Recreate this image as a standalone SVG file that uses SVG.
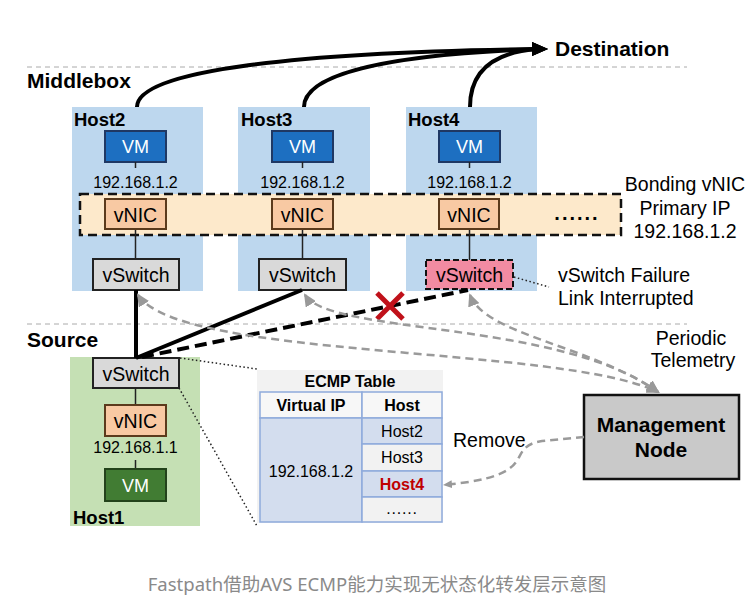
<svg xmlns="http://www.w3.org/2000/svg" width="754" height="604" viewBox="0 0 754 604">
<defs>
<style>
text{font-family:"Liberation Sans",Arial,Helvetica,sans-serif;fill:#000}
.c{text-anchor:middle}
.b{font-weight:bold}
.sec{font-size:21px;font-weight:bold}
.host{fill:#bdd7ee}
.vm{fill:#1d6fc1;stroke:#1f3864;stroke-width:2}
.gvm{fill:#417c33;stroke:#23421b;stroke-width:2}
.vmt{fill:#fff;font-size:18px}
.nic{fill:#f8c9a3;stroke:#5b3a1c;stroke-width:2}
.sw{fill:#d9d9d9;stroke:#222;stroke-width:2}
.t19{font-size:19.5px}
.t16{font-size:16px}
.hl{font-size:18.5px;font-weight:bold}
.thin{stroke:#222;stroke-width:1.5;fill:none}
.sep{stroke:#aaa;stroke-width:1;stroke-dasharray:5 4;fill:none}
.tel{fill:none;stroke:#9a9a9a;stroke-width:2.5;stroke-dasharray:8 5}
.dot{fill:none;stroke:#222;stroke-width:1.5;stroke-dasharray:1.5 2.5}
.thick{fill:none;stroke:#000;stroke-width:4}
.cell{stroke:#8eaadb;stroke-width:1.5}
.bl{fill:#d3ddee}
.lt{fill:#f2f2f2}
</style>
<marker id="ah" markerUnits="userSpaceOnUse" markerWidth="16" markerHeight="14" viewBox="0 0 16 14" refX="6" refY="7" orient="0"><path d="M0,0 L16,7 L0,14 Z" fill="#000"/></marker>
<marker id="ga" markerUnits="userSpaceOnUse" markerWidth="13" markerHeight="12" viewBox="0 0 13 12" refX="11" refY="6" orient="auto-start-reverse"><path d="M0,0 L13,6 L0,12 Z" fill="#999"/></marker>
<marker id="gs" markerUnits="userSpaceOnUse" markerWidth="9" markerHeight="8" viewBox="0 0 9 8" refX="8" refY="4" orient="auto"><path d="M0,0 L9,4 L0,8 Z" fill="#999"/></marker>
</defs>

<g id="separators">
<path class="sep" d="M27,67 H687"/>
<path class="sep" d="M27,324 H687"/>
</g>

<g id="section-labels">
<text class="sec" x="27" y="88">Middlebox</text>
<text class="sec" x="27" y="347">Source</text>
</g>

<g id="destination">
<text class="sec" x="555" y="56">Destination</text>
</g>

<g id="host2">
<rect class="host" x="72" y="107" width="131" height="184"/>
<text class="hl" x="74" y="126">Host2</text>
<rect class="vm" x="105" y="131" width="61" height="31"/>
<text class="vmt c" x="135.5" y="153">VM</text>
<path class="thin" d="M135.5,162 V168"/>
<text class="t16 c" x="135.5" y="188">192.168.1.2</text>
</g>

<g id="host3">
<rect class="host" x="238" y="107" width="132" height="184"/>
<text class="hl" x="241" y="126">Host3</text>
<rect class="vm" x="272" y="131" width="61" height="31"/>
<text class="vmt c" x="302.5" y="153">VM</text>
<path class="thin" d="M302.5,162 V168"/>
<text class="t16 c" x="302.5" y="188">192.168.1.2</text>
</g>

<g id="host4">
<rect class="host" x="406" y="107" width="131" height="184"/>
<text class="hl" x="408" y="126">Host4</text>
<rect class="vm" x="439" y="131" width="61" height="31"/>
<text class="vmt c" x="469.5" y="153">VM</text>
<path class="thin" d="M469.5,162 V168"/>
<text class="t16 c" x="469.5" y="188">192.168.1.2</text>
</g>

<g id="bonding-vnic">
<rect x="80" y="194" width="541" height="41" fill="#fde9cb" stroke="#111" stroke-width="2.5" stroke-dasharray="9 5"/>
<text class="b c" x="577" y="220" font-size="20" letter-spacing="2">......</text>
<text class="t19 c" x="685" y="191">Bonding vNIC</text>
<text class="t19 c" x="685" y="214.5">Primary IP</text>
<text class="t19 c" x="685" y="238">192.168.1.2</text>
</g>

<g id="host2-vnic-vswitch">
<path class="thin" d="M135.5,229 V259"/>
<rect class="nic" x="105" y="199" width="61" height="30"/>
<text class="t19 c" x="135.5" y="222">vNIC</text>
<rect class="sw" x="93" y="259" width="86" height="31"/>
<text class="t19 c" x="136" y="282">vSwitch</text>
</g>

<g id="host3-vnic-vswitch">
<path class="thin" d="M302.5,229 V259"/>
<rect class="nic" x="272" y="199" width="61" height="30"/>
<text class="t19 c" x="302.5" y="222">vNIC</text>
<rect class="sw" x="259" y="259" width="87" height="31"/>
<text class="t19 c" x="302.5" y="282">vSwitch</text>
</g>

<g id="host4-vnic-vswitch">
<path class="thin" d="M469.5,229 V260"/>
<rect class="nic" x="439" y="199" width="60" height="30"/>
<text class="t19 c" x="469" y="222">vNIC</text>
<rect x="426" y="260" width="87" height="29" fill="#f28ba2" stroke="#111" stroke-width="2" stroke-dasharray="6 3"/>
<text class="t19 c" x="469.5" y="282">vSwitch</text>
</g>

<g id="failure-note">
<path class="dot" d="M514,277 L549,287"/>
<text class="t19" x="558" y="282">vSwitch Failure</text>
<text class="t19" x="558" y="305">Link Interrupted</text>
</g>

<g id="host1">
<rect x="70" y="357" width="130" height="169" fill="#c5e0b4"/>
<path class="thin" d="M135.5,388 V405 M135.5,460 V469"/>
<rect class="sw" x="93" y="358" width="86" height="30"/>
<text class="t19 c" x="136" y="381">vSwitch</text>
<rect class="nic" x="105" y="405" width="61" height="31"/>
<text class="t19 c" x="135.5" y="428">vNIC</text>
<text class="t16 c" x="135.5" y="453">192.168.1.1</text>
<rect class="gvm" x="105" y="469" width="61" height="32"/>
<text class="vmt c" x="135.5" y="492">VM</text>
<text class="hl" x="73" y="524">Host1</text>
</g>

<g id="ecmp-table">
<rect x="257" y="370" width="186" height="153" fill="#f2f2f2"/>
<text class="b c" x="350" y="387" font-size="16">ECMP Table</text>
<rect class="cell" x="260" y="392" width="102" height="26" fill="#f7f7f7"/>
<rect class="cell" x="362" y="392" width="80" height="26" fill="#f7f7f7"/>
<rect class="cell bl" x="260" y="418" width="102" height="104"/>
<rect class="cell bl" x="362" y="418" width="80" height="26"/>
<rect class="cell lt" x="362" y="444" width="80" height="27"/>
<rect class="cell bl" x="362" y="471" width="80" height="26"/>
<rect class="cell lt" x="362" y="497" width="80" height="25"/>
<text class="b c t16" x="311" y="411">Virtual IP</text>
<text class="b c t16" x="402" y="411">Host</text>
<text class="c t16" x="311" y="477">192.168.1.2</text>
<text class="c t16" x="402" y="437">Host2</text>
<text class="c t16" x="402" y="463">Host3</text>
<text class="b c t16" x="402" y="490" style="fill:#c00000">Host4</text>
<text class="c t16" x="402" y="514" letter-spacing="0.8">......</text>
</g>

<g id="management-node">
<rect x="584" y="395" width="155" height="84" fill="#c9c9c9" stroke="#111" stroke-width="2.5"/>
<text class="b c" x="661" y="432" font-size="21">Management</text>
<text class="b c" x="661" y="457" font-size="21">Node</text>
</g>

<g id="connectors">
<path class="thick" d="M137,107 C137,70 300,52 538,49" marker-end="url(#ah)"/>
<path class="thick" d="M304,107 C304,75 380,55 538,49" marker-end="url(#ah)"/>
<path class="thick" d="M470,107 C470,70 495,52 538,49" marker-end="url(#ah)"/>
<path class="thick" d="M136,358 V290"/>
<path class="thick" d="M136,358 L302,290"/>
<path class="thick" d="M142,357 L468,290" stroke-dasharray="12 6" stroke-width="4.5"/>
<path d="M377,293 L403,319 M403,293 L377,319" stroke="#c0111a" stroke-width="5" fill="none"/>
<path class="tel" d="M138,295 C180,360 560,345 658,392" marker-start="url(#ga)" marker-end="url(#ga)"/>
<path class="tel" d="M305,295 C330,335 560,320 658,392" marker-start="url(#ga)" marker-end="url(#ga)"/>
<path class="tel" d="M470,295 C485,335 590,345 658,392" marker-start="url(#ga)" marker-end="url(#ga)"/>
<path class="tel" d="M584,437 L542,441 C522,444 522,454 516,462 C505,478 472,482 444,485" marker-end="url(#gs)"/>
<path class="dot" d="M180,358 L257,369"/>
<path class="dot" d="M179,388 L257,526"/>
</g>

<g id="labels">
<text class="t19 c" x="691" y="345">Periodic</text>
<text class="t19 c" x="693" y="367">Telemetry</text>
<text class="t19" x="453" y="447">Remove</text>
</g>

<text x="377" y="591" text-anchor="middle" font-size="18.5" style="fill:#8a8a8a;font-family:'Noto Sans','Noto Sans CJK SC',sans-serif">Fastpath借助AVS ECMP能力实现无状态化转发层示意图</text>
</svg>
